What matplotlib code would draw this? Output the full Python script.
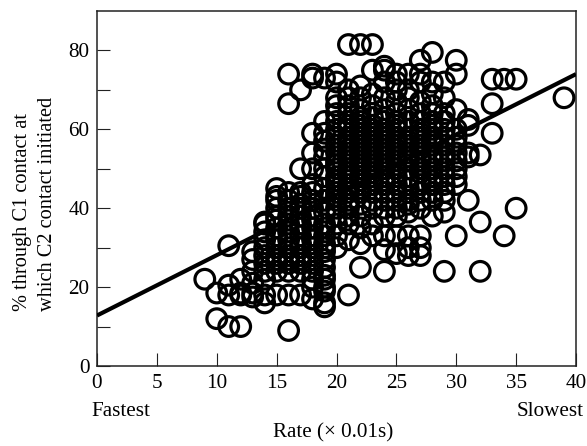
import matplotlib
matplotlib.use('Agg')
import matplotlib.pyplot as plt

# values, one list per rate value
rate_vals = list(range(9, 36)) + [39]
pct_vals = [
    [22],
    [12, 18.5],
    [10, 18, 20.5, 30.5],
    [10, 18, 18.5, 22],
    [17.5, 18.5, 21, 24, 27, 29],
    [16, 18, 22, 24, 26, 28, 30, 32, 34, 36, 36.5],
    [18, 24, 26, 27, 28, 30, 32, 33, 35, 37, 38, 40, 42, 43, 45],
    [9, 18, 24, 26, 27, 28, 30, 32, 34, 36, 38, 40, 42, 44, 66.5, 74],
    [18, 24, 26, 27, 28, 30, 31, 33, 35, 36, 38, 40, 41, 43, 44, 50, 70],
    [17, 20, 22, 24, 26, 28, 30, 32, 33, 35, 37, 38, 40, 42, 44, 46, 50, 54, 59, 73, 74],
    [15, 16, 19, 20, 22, 23, 25, 27, 29, 30, 31, 33, 35, 36, 39, 42, 45, 48, 50, 53, 55, 57, 59, 62, 73],
    [30, 33, 36, 38, 40, 42, 43, 44, 46, 47, 48, 50, 51, 52, 54, 56, 58, 60, 62, 64, 66, 68, 72, 74],
    [18, 32, 36, 38, 40, 41, 42, 44, 45, 46, 48, 49, 50, 52, 53, 54, 55, 56, 57, 58, 60, 61, 62, 64, 66, 68, 70, 81.5],
    [25, 31, 35, 38, 41, 44, 45, 47, 48, 50, 51, 52, 53, 54, 55, 56, 57, 58, 59, 60, 61, 62, 63, 65, 68, 71, 81.5],
    [33, 36, 40, 42, 44, 46, 47, 48, 49, 50, 51, 52, 53, 54, 55, 56, 57, 58, 59, 60, 61, 63, 66, 69, 75, 81.5],
    [24, 29.5, 33, 38, 40, 42, 44, 46, 47, 48, 50, 51, 53, 54, 55, 56, 57, 58, 59, 60, 62, 63, 65, 68, 72, 75, 76],
    [28.5, 33, 38, 40, 42, 44, 46, 48, 50, 52, 53, 54, 55, 56, 57, 58, 60, 61, 62, 64, 67, 70, 72, 74],
    [28, 30, 33, 39, 41, 42, 45, 47, 48, 50, 52, 53, 54, 56, 57, 58, 60, 62, 65, 68, 70, 74],
    [28, 30, 33, 40, 42, 44, 46, 47, 49, 50, 52, 53, 55, 56, 58, 59, 60, 62, 64, 67, 72, 74, 77.5],
    [38, 42, 44, 46, 47, 48, 50, 52, 53, 54, 56, 57, 58, 60, 61, 62, 64, 66, 69, 72, 79.5],
    [24, 39, 42, 44, 46, 48, 50, 52, 53, 54, 56, 58, 60, 62, 64, 68, 72],
    [33, 46, 48, 50, 52, 54, 56, 58, 60, 65, 74, 77.5],
    [42, 53, 54, 61, 62.5],
    [24, 36.5, 53.5],
    [59, 66.5, 72.7],
    [33, 72.7],
    [40, 72.7],
    [68],
]
line_rate = [0, 40]
line_pct = [12.8, 74]

x_major = [0, 5, 10, 15, 20, 25, 30, 35, 40]
y_ticks = [0, 10, 20, 30, 40, 50, 60, 70, 80]
y_labels = ['0', '', '20', '', '40', '', '60', '', '80']

plt.rcParams['font.family'] = ['Liberation Serif', 'DejaVu Serif']

xs = []
ys = []
for r, vals in zip(rate_vals, pct_vals):
    for v in vals:
        xs.append(r)
        ys.append(v)

fig = plt.figure(figsize=(5.87, 4.46), dpi=100)
ax = fig.add_axes([97 / 587, 1 - 366 / 446, 479 / 587, 355 / 446])
ax.scatter(xs, ys, s=200, facecolors='none', edgecolors='black', linewidths=2.3, zorder=3)
ax.plot(line_rate, line_pct, color='black', lw=3, solid_capstyle='butt', zorder=4)
ax.set_xlim(0, 40)
ax.set_ylim(0, 90)
ax.set_xticks(x_major)
ax.set_yticks(y_ticks)
ax.set_yticklabels(y_labels)
ax.tick_params(direction='in', length=9.5, width=0.8, color='#222222', labelsize=15.2)
ax.tick_params(axis='x', pad=6)
ax.tick_params(axis='y', pad=5.5)
for s in ax.spines.values():
    s.set_linewidth(1.1)
    s.set_color('#222222')

fig.text(23 / 587, 1 - 311 / 446, '% through C1 contact at', fontsize=14.7, rotation=90, va='bottom', ha='center')
fig.text(48 / 587, 1 - 311 / 446, 'which C2 contact initiated', fontsize=14.7, rotation=90, va='bottom', ha='center')
fig.text(91 / 587, 1 - 412 / 446, 'Fastest', fontsize=15.2, va='center', ha='left')
fig.text(584 / 587, 1 - 412 / 446, 'Slowest', fontsize=15.2, va='center', ha='right')
fig.text(333.5 / 587, 1 - 433 / 446, 'Rate (× 0.01s)', fontsize=15.2, va='center', ha='center')

fig.savefig('out.png', dpi=100)
